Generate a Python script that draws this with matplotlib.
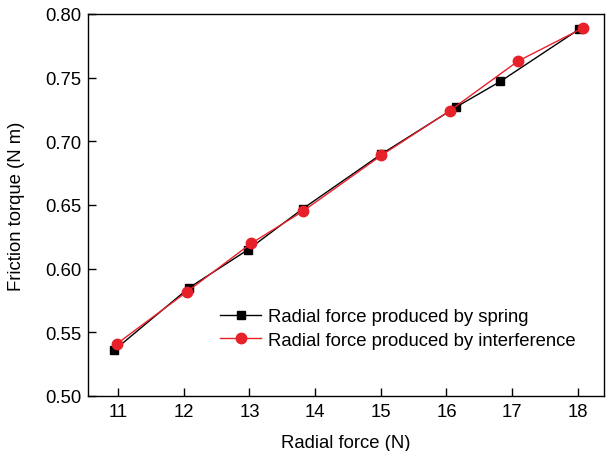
import matplotlib
matplotlib.use("Agg")
import matplotlib.pyplot as plt

plt.rcParams['font.family'] = ['Liberation Sans', 'DejaVu Sans']

spring_x = [10.94, 12.08, 12.98, 13.81, 15.01, 16.15, 16.82, 18.02]
spring_y = [0.536, 0.585, 0.615, 0.647, 0.690, 0.727, 0.747, 0.788]
interf_x = [10.98, 12.05, 13.03, 13.81, 15.01, 16.05, 17.09, 18.08]
interf_y = [0.541, 0.582, 0.620, 0.645, 0.689, 0.724, 0.763, 0.789]

xticks = [11, 12, 13, 14, 15, 16, 17, 18]
yticks = [0.50, 0.55, 0.60, 0.65, 0.70, 0.75, 0.80]

fs = 13.3
fig = plt.figure(figsize=(6.07, 4.52), dpi=100)
ax = fig.add_axes([88/607, 1 - 397/452, (604-88)/607, (397-15)/452])

ax.plot(spring_x, spring_y, color='black', lw=1.0, marker='s', ms=6.3,
        label='Radial force produced by spring')
ax.plot(interf_x, interf_y, color='#e8202a', lw=1.0, marker='o', ms=7.5,
        label='Radial force produced by interference')

ax.set_xlim(10.54, 18.4)
ax.set_ylim(0.5, 0.8)
ax.set_xticks(xticks)
ax.set_xticklabels([str(t) for t in xticks])
ax.set_yticks(yticks)
ax.set_yticklabels([f"{t:.2f}" for t in yticks])
ax.tick_params(direction='in', length=6, width=1, labelsize=fs, pad=5)
for s in ax.spines.values():
    s.set_linewidth(1.0)

ax.set_xlabel('Radial force (N)', fontsize=fs, labelpad=10)
ax.set_ylabel('Friction torque (N m)', fontsize=fs, labelpad=14)

ax.legend(loc='lower right', bbox_to_anchor=(0.96, 0.105), frameon=False,
          fontsize=fs, handlelength=2.2, handletextpad=0.4, labelspacing=0.35,
          borderaxespad=0)

fig.savefig('out.png', dpi=100)
